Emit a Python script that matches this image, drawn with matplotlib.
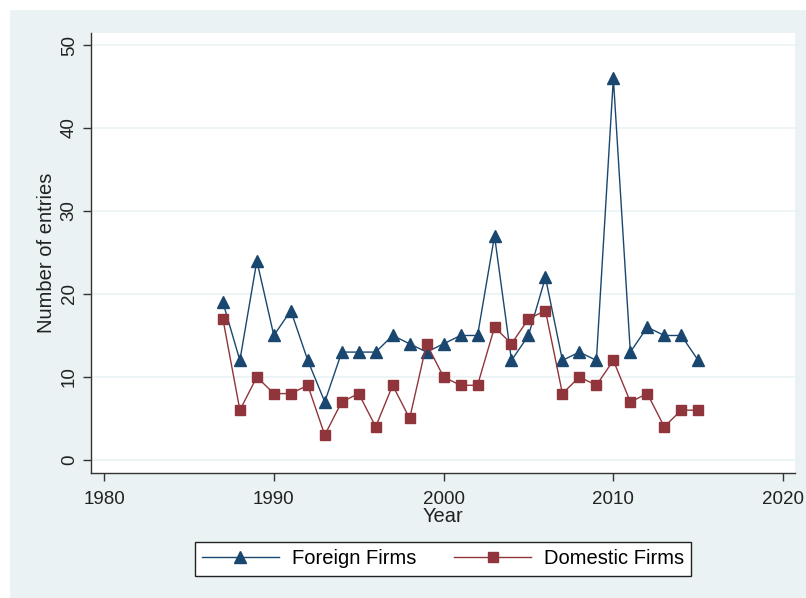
import matplotlib.pyplot as plt
from matplotlib.patches import Rectangle

years = list(range(1987, 2016))
foreign = [19, 12, 24, 15, 18, 12, 7, 13, 13, 13, 15, 14, 13, 14, 15, 15, 27,
           12, 15, 22, 12, 13, 12, 46, 13, 16, 15, 15, 12]
domestic = [17, 6, 10, 8, 8, 9, 3, 7, 8, 4, 9, 5, 14, 10, 9, 9, 16, 14, 17,
            18, 8, 10, 9, 12, 7, 8, 4, 6, 6]
xticks = [1980, 1990, 2000, 2010, 2020]
yticks = [0, 10, 20, 30, 40, 50]

bg = '#EAF2F3'
navy = '#1A476F'
maroon = '#90353B'

plt.rcParams['font.family'] = ['Liberation Sans', 'DejaVu Sans']

fig = plt.figure(figsize=(8.06, 5.98), dpi=100)
fig.patch.set_facecolor('white')
fig.add_artist(Rectangle((10 / 806, 0), 1, 1 - 10 / 598, transform=fig.transFigure,
                         facecolor=bg, edgecolor='none', zorder=0))

ax = fig.add_axes([91 / 806, 1 - 473 / 598, 704 / 806, 440 / 598])
ax.set_facecolor('white')

ax.plot(years, foreign, color=navy, lw=1.0, marker='^', ms=8.5,
        label='Foreign Firms', zorder=3)
ax.plot(years, domestic, color=maroon, lw=1.0, marker='s', ms=6.5,
        label='Domestic Firms', zorder=3)

ax.set_xlim(1979.23, 2020.7)
ax.set_ylim(-1.57, 51.45)
ax.set_xticks(xticks)
ax.set_yticks(yticks)
ax.grid(axis='y', color=bg, lw=1.2)
ax.set_axisbelow(True)

for s in ['top', 'right']:
    ax.spines[s].set_visible(False)
for s in ['left', 'bottom']:
    ax.spines[s].set_color('#333333')
    ax.spines[s].set_linewidth(1.0)

ax.tick_params(axis='both', direction='out', length=6, width=1.0,
               color='#333333', labelsize=13.5, labelcolor='#222222')
ax.tick_params(axis='x', pad=7)
plt.setp(ax.get_yticklabels(), rotation=90, va='center')

ax.set_xlabel('Year', fontsize=14.5, color='#222222', va='center')
ax.xaxis.set_label_coords(0.5, (473 - 517) / 440)
ax.set_ylabel('Number of entries', fontsize=14.5, color='#222222', va='center')
ax.yaxis.set_label_coords((47 - 91) / 704, 0.5)

leg = fig.legend(loc='center', bbox_to_anchor=(443 / 806, 1 - 559 / 598), ncol=2,
                 fontsize=14.5, frameon=True, fancybox=False, handlelength=3.8,
                 columnspacing=1.9, handletextpad=0.65, borderpad=0.35,
                 borderaxespad=0)
leg.get_frame().set_edgecolor('#222222')
leg.get_frame().set_linewidth(1.0)
leg.get_frame().set_facecolor('white')
leg.get_frame().set_alpha(1)

plt.savefig('out.png', dpi=100, facecolor=fig.get_facecolor())
